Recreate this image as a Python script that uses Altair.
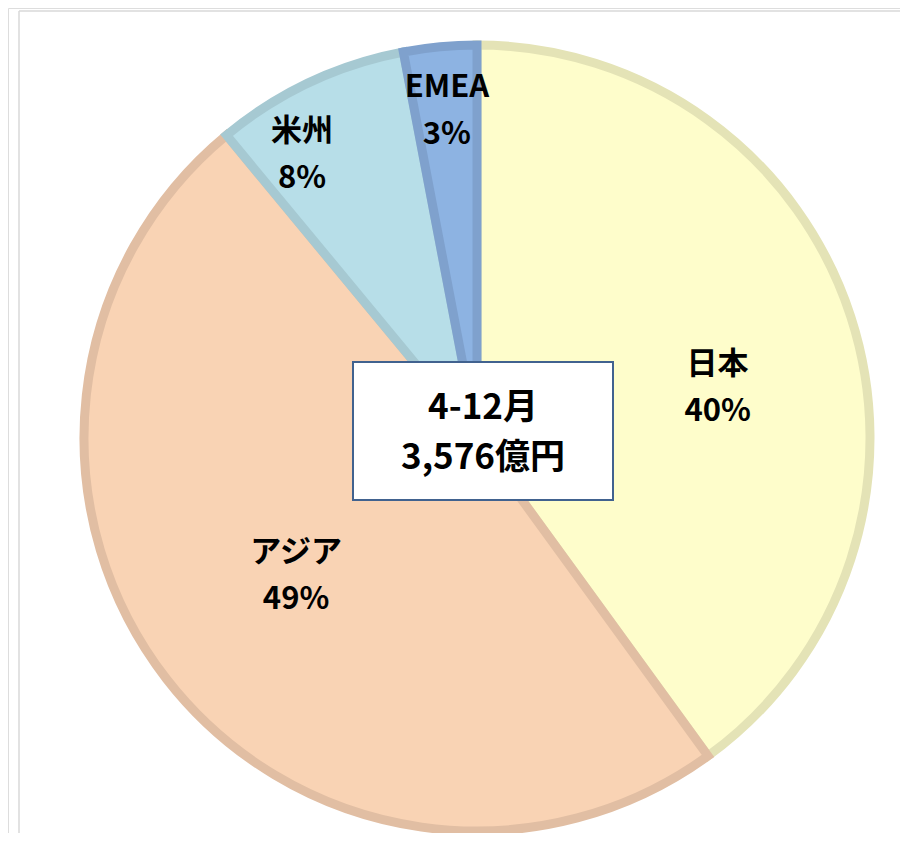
import altair as alt
import pandas as pd

regions = ["日本", "アジア", "米州", "EMEA"]
shares = [40, 49, 8, 3]
pct_labels = ["40%", "49%", "8%", "3%"]
fills = ["#FEFDCB", "#F9D3B4", "#B7DEE8", "#8DB3E2"]
strokes = ["#E4E3B6", "#E1BEA3", "#A6C9D2", "#7FA1CD"]
center_title = "4-12月"
center_total = "3,576億円"

df = pd.DataFrame({
    "region": regions,
    "share": shares,
    "order": list(range(len(regions))),
    "label": [f"{r}\n{p}" for r, p in zip(regions, pct_labels)],
})

CX, CY = 469, 430
R = 393
W, H = 892, 825

fill_scale = alt.Scale(domain=regions, range=fills)
stroke_scale = alt.Scale(domain=regions, range=strokes)

arcs = alt.Chart(df).mark_arc(outerRadius=R, strokeWidth=9, strokeJoin="miter").encode(
    theta=alt.Theta("share:Q", stack=True),
    order=alt.Order("order:Q"),
    x=alt.value(CX),
    y=alt.value(CY),
    fill=alt.Fill("region:N", scale=fill_scale, legend=None),
    stroke=alt.Stroke("region:N", scale=stroke_scale, legend=None),
)

label_font = "Noto Sans CJK JP"

label_base = alt.Chart(df).transform_window(
    cum="sum(share)", sort=[alt.SortField("order")]
).transform_calculate(
    mid="datum.cum - datum.share / 2"
)

def label_layer(name, radius, dx=0, dy=0):
    return label_base.transform_filter(alt.datum.region == name).mark_text(
        radius=radius, dx=dx, dy=dy, font=label_font, fontSize=31,
        fontWeight="bold", color="black", lineBreak="\n", lineHeight=47,
        align="center", baseline="middle",
    ).encode(
        theta=alt.Theta("mid:Q", scale=alt.Scale(domain=[0, 100]), stack=None),
        x=alt.value(CX),
        y=alt.value(CY),
        text="label:N",
    )

labels = [
    label_layer("日本", 253, dy=5),
    label_layer("アジア", 229, dy=-25),
    label_layer("米州", 338, dx=-31),
    label_layer("EMEA", 352, dx=3),
]

box = alt.Chart(df).mark_rect(fill="white", stroke="#41628F", strokeWidth=2).encode(
    x=alt.value(345), x2=alt.value(605), y=alt.value(354), y2=alt.value(492)
).transform_filter(alt.datum.order == 0)

center_text = alt.Chart(pd.DataFrame({"t": [f"{center_title}\n{center_total}"]})).mark_text(
    font=label_font, fontSize=35, fontWeight="bold", color="black",
    lineBreak="\n", lineHeight=50, align="center", baseline="middle",
).encode(x=alt.value(475), y=alt.value(400), text="t:N")

frame_top = alt.Chart(df).mark_rule(color="#D9D9D9", strokeWidth=1.5).encode(
    x=alt.value(11), x2=alt.value(W), y=alt.value(3)
).transform_filter(alt.datum.order == 0)
frame_left = alt.Chart(df).mark_rule(color="#D9D9D9", strokeWidth=1.5).encode(
    x=alt.value(11), y=alt.value(3), y2=alt.value(H)
).transform_filter(alt.datum.order == 0)

chart = alt.layer(frame_top, frame_left, arcs, *labels, box, center_text).properties(
    width=W, height=H, padding=0, autosize=alt.AutoSizeParams(type="none")
).configure_view(stroke=None).configure(background="white")

chart.save("out.html", embed_options={"renderer": "svg", "actions": False})
